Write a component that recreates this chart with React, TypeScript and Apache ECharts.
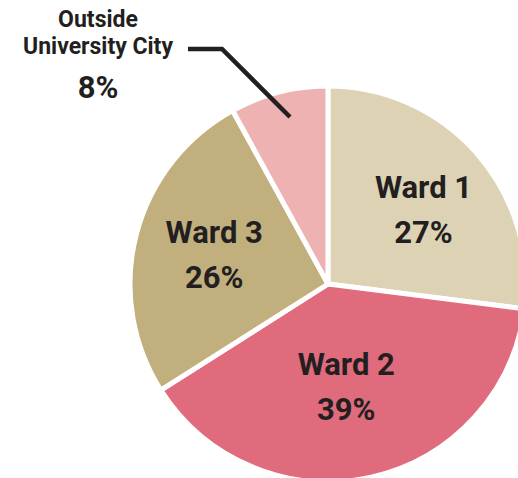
import React, { useEffect, useRef } from "react";
import * as echarts from "echarts";

const categories = ["Ward 1", "Ward 2", "Ward 3", "Outside University City"];
const values = [27, 39, 26, 8];
const colors = ["#DDD2B4", "#E06B7C", "#C1AF7E", "#EEB2B3"];
const outsideLabelLines = ["Outside", "University City"];

export default function App() {
  const ref = useRef<HTMLDivElement>(null);
  useEffect(() => {
    document.body.style.margin = "0";
    const chart = echarts.init(ref.current!, null, { renderer: "svg" });
    const data = categories.map((name, i) => {
      const isOutside = i === 3;
      return {
        name,
        value: values[i],
        itemStyle: { color: colors[i] },
        label: isOutside
          ? {
              show: true,
              position: "outside",
              formatter: () =>
                outsideLabelLines.map((l) => `{a|${l}}`).join("\n") + `\n{b|${values[i]}%}`,
              rich: {
                a: { fontSize: 23, fontWeight: "bold", lineHeight: 27, color: "#231F20", fontFamily: "Roboto", align: "center" },
                b: { fontSize: 31, fontWeight: "bold", lineHeight: 54, color: "#231F20", fontFamily: "Roboto", align: "center" },
              },
            }
          : {
              show: true,
              position: "inside",
              formatter: (p: any) => `{a|${p.name}}\n{a|${p.value}%}`,
              rich: {
                a: { fontSize: 31, fontWeight: "bold", lineHeight: 45, color: "#231F20", fontFamily: "Roboto", align: "center" },
              },
            },
        labelLine: { show: false },
      };
    });
    chart.setOption({
      animation: false,
      graphic: [
        {
          type: "polyline",
          z: 100,
          shape: {
            points: [
              [290, 117],
              [222, 49],
              [188, 49],
            ],
          },
          style: { stroke: "#231F20", lineWidth: 4.5, fill: "none" },
        },
      ],
      series: [
        {
          type: "pie",
          center: [328, 284],
          radius: [0, 198],
          startAngle: 90,
          clockwise: true,
          avoidLabelOverlap: false,
          itemStyle: { borderColor: "#ffffff", borderWidth: 5 },
          emphasis: { disabled: true },
          data,
          labelLayout: (params: any) => {
            if (params.dataIndex === 3) {
              return { x: 98, y: 6, align: "center", verticalAlign: "top" };
            }
            if (params.dataIndex === 0) return { dx: 19, dy: -7 };
            if (params.dataIndex === 1) return { dx: -4, dy: 3 };
            if (params.dataIndex === 2) return { dx: -15, dy: -4 };
            return {};
          },
        },
      ],
    });
    return () => chart.dispose();
  }, []);
  return <div ref={ref} style={{ width: 518, height: 478 }} />;
}
